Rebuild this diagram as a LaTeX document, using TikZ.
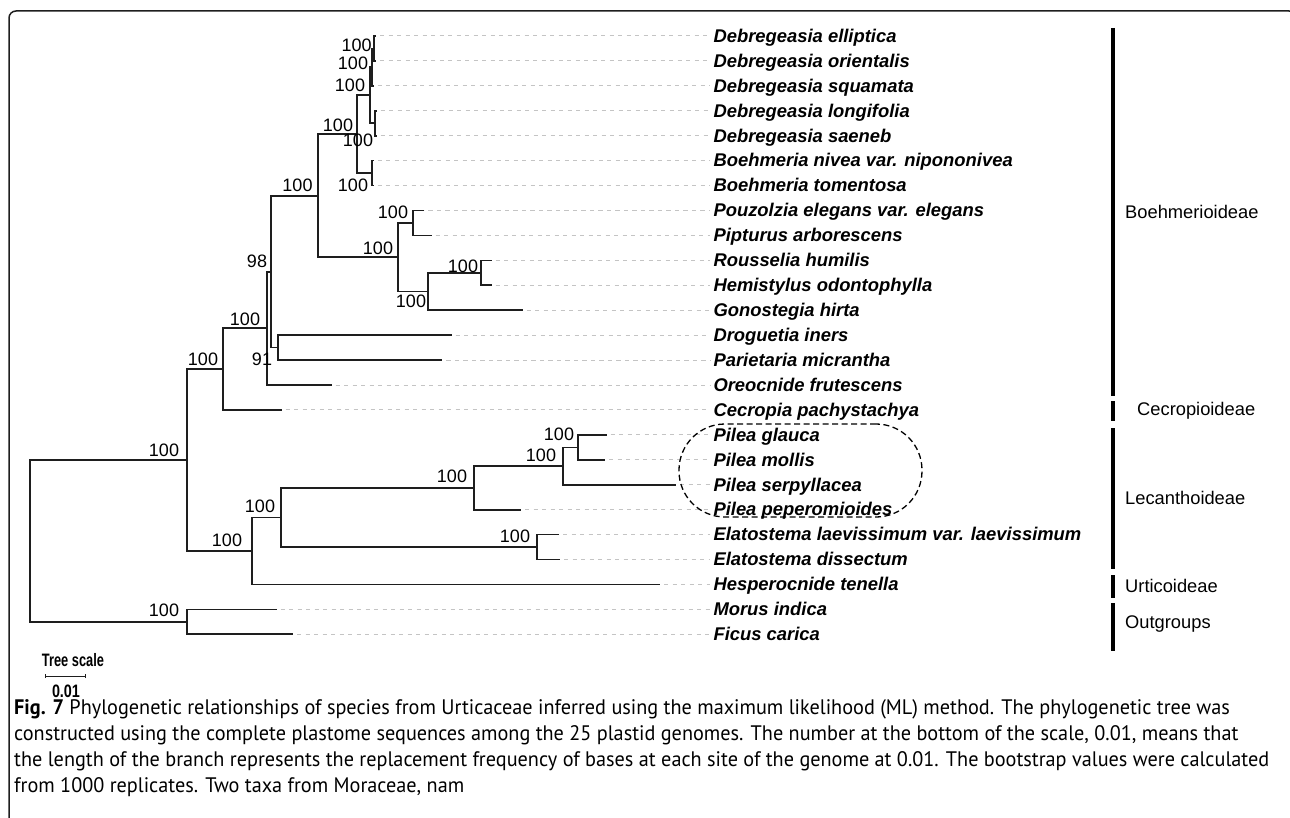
\documentclass[tikz,border=0pt]{standalone}
\usepackage{fontspec}
\usepackage{graphicx}
\setmainfont{Liberation Sans}
\newfontfamily\capfont{PT Sans}
\definecolor{brc}{HTML}{1E1E1E}
\definecolor{dlc}{HTML}{C4C4C4}
\tikzset{
  branch/.style={draw=brc, line width=1.7pt},
  guide/.style={draw=dlc, line width=1pt, dash pattern=on 4.2pt off 4.3pt, shorten <=4pt, shorten >=3pt},
  taxon/.style={anchor=base west, inner sep=0pt, font=\fontsize{18.4}{20}\selectfont\bfseries\itshape},
  boot/.style={inner sep=0pt, font=\fontsize{18}{20}\selectfont},
  subbar/.style={line width=4.4pt, draw=black},
  sublabel/.style={anchor=west, inner sep=0pt, font=\fontsize{18.3}{20}\selectfont},
  pbox/.style={draw=black, line width=1.3pt, dash pattern=on 6pt off 3.5pt, rounded corners=46pt, minimum width=243pt, minimum height=93pt, inner sep=0pt},
  frame/.style={draw=brc, line width=1.5pt, rounded corners=7pt},
  scalelbl/.style={inner sep=0pt, font=\fontsize{18}{20}\selectfont\bfseries},
  caption/.style={anchor=base west, inner sep=0pt, font=\capfont\fontsize{21}{26}\selectfont},
}
\newcommand\mkclade[3]{\draw[branch] (#2) -- (#1 |- #2) -- (#1 |- #3) -- (#3);}
\begin{document}
\begin{tikzpicture}[x=1pt,y=-1pt]
\path[use as bounding box] (0,0) rectangle (1290,818);
% frame
\draw[frame] (9,830) -- (9,11) -- (1296,11) -- (1296,830);
% tips and labels
\foreach \i/\tipx/\txt in {
 1/376/Debregeasia elliptica,
 2/376/Debregeasia orientalis,
 3/373.5/Debregeasia squamata,
 4/376.5/Debregeasia longifolia,
 5/376.5/Debregeasia saeneb,
 6/373.5/Boehmeria nivea var. nipononivea,
 7/373.5/Boehmeria tomentosa,
 8/424.3/Pouzolzia elegans var. elegans,
 9/431.7/Pipturus arborescens,
 10/491.7/Rousselia humilis,
 11/491.7/Hemistylus odontophylla,
 12/522.7/Gonostegia hirta,
 13/451.7/Droguetia iners,
 14/442.3/Parietaria micrantha,
 15/331.7/Oreocnide frutescens,
 16/281.7/Cecropia pachystachya,
 17/606.7/Pilea glauca,
 18/605/Pilea mollis,
 19/676/Pilea serpyllacea,
 20/521/Pilea peperomioides,
 21/559/Elatostema laevissimum var. laevissimum,
 22/560/Elatostema dissectum,
 23/660/Hesperocnide tenella,
 24/276.7/Morus indica,
 25/293/Ficus carica}{
  \coordinate (t\i) at (\tipx, {36+24.93*(\i-1)});
  \node[taxon] (l\i) at (713.3, {36+24.93*(\i-1)+6.3}) {\txt};
  \draw[guide] (t\i) -- (t\i -| l\i.west);
}
% internal nodes
\coordinate (nC) at (374,48.47);
\coordinate (nB) at (372,67.16);
\coordinate (nD) at (375,123.26);
\coordinate (nA) at (370,95.21);
\coordinate (nE) at (371.7,173.12);
\coordinate (nF) at (356.7,134.16);
\coordinate (nG) at (413.3,222.98);
\coordinate (nH) at (480.7,272.84);
\coordinate (nI) at (428.3,291.53);
\coordinate (nJ) at (398.3,257.25);
\coordinate (nK) at (317.7,195.7);
\coordinate (nL) at (277.7,347.63);
\coordinate (nM) at (270.7,271.67);
\coordinate (nN) at (267.3,328.34);
\coordinate (nO) at (222.7,369.15);
\coordinate (nP) at (577.7,447.35);
\coordinate (nQ) at (563.3,466.05);
\coordinate (nR) at (474,487.86);
\coordinate (nS) at (537.3,547.07);
\coordinate (nT) at (281,517.46);
\coordinate (nU) at (252.3,550.96);
\coordinate (nV) at (186.7,460.06);
\coordinate (nW) at (186.7,621.86);
\coordinate (root) at (30,540.96);
% branches
\mkclade{nC}{t1}{t2}
\mkclade{nB}{nC}{t3}
\mkclade{nD}{t4}{t5}
\mkclade{nA}{nB}{nD}
\mkclade{nE}{t6}{t7}
\mkclade{nF}{nA}{nE}
\mkclade{nG}{t8}{t9}
\mkclade{nH}{t10}{t11}
\mkclade{nI}{nH}{t12}
\mkclade{nJ}{nG}{nI}
\mkclade{nK}{nF}{nJ}
\mkclade{nL}{t13}{t14}
\mkclade{nM}{nK}{nL}
\mkclade{nN}{nM}{t15}
\mkclade{nO}{nN}{t16}
\mkclade{nP}{t17}{t18}
\mkclade{nQ}{nP}{t19}
\mkclade{nR}{nQ}{t20}
\mkclade{nS}{t21}{t22}
\mkclade{nT}{nR}{nS}
\mkclade{nU}{nT}{t23}
\mkclade{nV}{nO}{nU}
\mkclade{nW}{t24}{t25}
\mkclade{root}{nV}{nW}
% bootstrap values
\node[boot] (bC) at (356.7,45) {100};
\node[boot] (bB) at (353,63.3) {100};
\node[boot] (bA) at (350,85) {100};
\node[boot] (bF) at (338,125) {100};
\node[boot] (bD) at (358,140) {100};
\node[boot] (bE) at (353,185) {100};
\node[boot] (bK) at (297.5,185) {100};
\node[boot] (bG) at (393,212.7) {100};
\node[boot] (bJ) at (378,248.3) {100};
\node[boot] (bI) at (411,301.7) {100};
\node[boot] (bH) at (463,266) {100};
\node[boot] (bM) at (257,261) {98};
\node[boot] (bL) at (262,359) {91};
\node[boot] (bN) at (245,319) {100};
\node[boot] (bO) at (203,359) {100};
\node[boot] (bV) at (164,450) {100};
\node[boot] (bW) at (164,610) {100};
\node[boot] (bU) at (227,540) {100};
\node[boot] (bT) at (260,506) {100};
\node[boot] (bR) at (452,476.7) {100};
\node[boot] (bQ) at (541,455) {100};
\node[boot] (bP) at (559,434) {100};
\node[boot] (bS) at (515,536.7) {100};
% Pilea box
\node[pbox] (pilea) at (800.5,470.5) {};
% subfamily bars
\draw[subbar] (1113,28) -- (1113,396);
\draw[subbar] (1113,401) -- (1113,421);
\draw[subbar] (1113,428) -- (1113,569);
\draw[subbar] (1113,575) -- (1113,598);
\draw[subbar] (1113,603) -- (1113,651);
\node[sublabel] (s1) at (1125,212) {Boehmerioideae};
\node[sublabel] (s2) at (1137,411) {Cecropioideae};
\node[sublabel] (s3) at (1125,498) {Lecanthoideae};
\node[sublabel] (s4) at (1125,586) {Urticoideae};
\node[sublabel] (s5) at (1125,624) {Outgroups};
% tree scale
\node[scalelbl] (tsl) at (73,660) {\resizebox{62pt}{\height}{Tree scale}};
\coordinate (sa) at (45,676);
\coordinate (sb) at (85,676);
\draw[brc, line width=1pt] (sa) -- (sb);
\draw[brc, line width=1pt] ([yshift=-2pt]sa) -- ([yshift=2pt]sa);
\draw[brc, line width=1pt] ([yshift=-2pt]sb) -- ([yshift=2pt]sb);
\node[scalelbl] (tsv) at (66,691) {\resizebox{28pt}{\height}{0.01}};
% caption
\node[caption] (cap) at (14,714) {\resizebox{1255pt}{\height}{\begin{tabular}[t]{@{}l@{}}%
{\bfseries Fig. 7} Phylogenetic relationships of species from Urticaceae inferred using the maximum likelihood (ML) method. The phylogenetic tree was\\
constructed using the complete plastome sequences among the 25 plastid genomes. The number at the bottom of the scale, 0.01, means that\\
the length of the branch represents the replacement frequency of bases at each site of the genome at 0.01. The bootstrap values were calculated\\
from 1000 replicates. Two taxa from Moraceae, nam\end{tabular}}};
\end{tikzpicture}
\end{document}
